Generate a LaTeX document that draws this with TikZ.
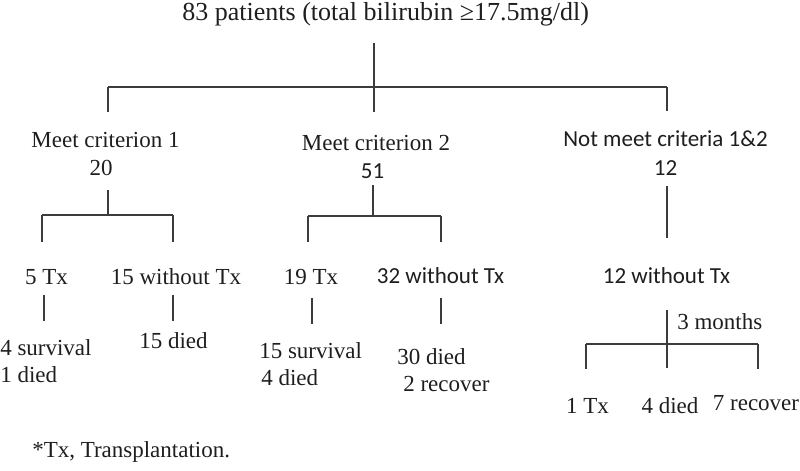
\documentclass[tikz,border=0pt]{standalone}
\usepackage{fontspec}
\setmainfont{Liberation Serif}
\newfontfamily\calfont{Carlito}
\usepackage{tikz}
\definecolor{linegray}{HTML}{3C3C3C}
\definecolor{textdark}{HTML}{1E1E1E}

\begin{document}
\begin{tikzpicture}[
  lbl/.style={anchor=base,inner sep=0pt,text=textdark,font=\fontsize{16.35}{19.2}\selectfont},
  lsf/.style={lbl,font=\calfont\fontsize{16.35}{19.2}\selectfont},
  two/.style={lbl,anchor=base west,align=left},
  br/.style={line width=1pt,draw=linegray}]
\useasboundingbox (0,0) rectangle (20,-11.775);
% title and first split
\node[lbl,font=\fontsize{18.5}{22}\selectfont] (top) at (9.64,-0.5) {83 patients (total bilirubin ≥17.5mg/dl)};
\coordinate (a0) at (9.35,-1.075); \coordinate (a1) at (9.35,-2.8);
\coordinate (b1) at (2.7,-2.175); \coordinate (b2) at (16.675,-2.175);
\coordinate (b1e) at (2.7,-2.8); \coordinate (b2e) at (16.675,-2.775);
\draw[br] (a0)--(a1); \draw[br] (b1)--(b2);
\draw[br] (b1)--(b1e); \draw[br] (b2)--(b2e);
% groups
\node[lbl] (c1) at (2.6375,-3.675) {Meet criterion 1};
\node[lbl] (n1) at (2.525,-4.375) {20};
\node[lbl] (c2) at (9.4,-3.75) {Meet criterion 2};
\node[lsf] (n2) at (9.3125,-4.45) {51};
\node[lsf] (c3) at (16.6375,-3.65) {Not meet criteria 1\&2};
\node[lsf] (n3) at (16.6375,-4.375) {12};
% second split
\coordinate (d1) at (2.7,-4.75); \coordinate (d1b) at (2.7,-5.375);
\coordinate (d1l) at (1.05,-5.375); \coordinate (d1r) at (4.325,-5.375);
\coordinate (d1le) at (1.05,-6.05); \coordinate (d1re) at (4.325,-6.05);
\draw[br] (d1)--(d1b); \draw[br] (d1l)--(d1r);
\draw[br] (d1l)--(d1le); \draw[br] (d1r)--(d1re);
\coordinate (d2) at (9.325,-4.625); \coordinate (d2b) at (9.325,-5.4);
\coordinate (d2l) at (7.7,-5.4); \coordinate (d2r) at (11.025,-5.4);
\coordinate (d2le) at (7.7,-6.05); \coordinate (d2re) at (11.025,-6.05);
\draw[br] (d2)--(d2b); \draw[br] (d2l)--(d2r);
\draw[br] (d2l)--(d2le); \draw[br] (d2r)--(d2re);
\coordinate (d3) at (16.675,-4.65); \coordinate (d3e) at (16.675,-5.95);
\draw[br] (d3)--(d3e);
% treatment
\node[lbl] (t1) at (1.1625,-7.1) {5 Tx};
\node[lbl] (w1) at (4.4,-7.1) {15 without Tx};
\node[lbl] (t2) at (7.775,-7.1) {19 Tx};
\node[lsf] (w2) at (11.0125,-7.075) {32 without Tx};
\node[lsf] (w3) at (16.6625,-7.075) {12 without Tx};
\coordinate (e1) at (1.1,-7.375); \coordinate (e1e) at (1.1,-8.025);
\coordinate (e2) at (4.325,-7.375); \coordinate (e2e) at (4.325,-8.025);
\coordinate (e3) at (7.8,-7.45); \coordinate (e3e) at (7.8,-8.1);
\coordinate (e4) at (11.025,-7.45); \coordinate (e4e) at (11.025,-8.1);
\draw[br] (e1)--(e1e); \draw[br] (e2)--(e2e);
\draw[br] (e3)--(e3e); \draw[br] (e4)--(e4e);
% outcomes (base = last line)
\node[two] (o1) at (0,-9.55) {4 survival\\1 died};
\node[lbl] (o2) at (4.3375,-8.7) {15 died};
\node[two] (o3) at (6.475,-9.625) {15 survival\\\hspace*{0.05cm}4 died};
\node[two] (o4) at (9.925,-9.775) {30 died\\\hspace*{0.15cm}2 recover};
% 3 months follow up
\coordinate (f0) at (16.675,-7.75); \coordinate (f0e) at (16.675,-9.2);
\coordinate (fl) at (14.65,-8.6); \coordinate (fr) at (18.95,-8.6);
\coordinate (fle) at (14.65,-9.225); \coordinate (fre) at (18.95,-9.225);
\draw[br] (f0)--(f0e); \draw[br] (fl)--(fr);
\draw[br] (fl)--(fle); \draw[br] (fr)--(fre);
\node[lbl,anchor=base west] (mo) at (16.925,-8.225) {3 months};
\node[lbl] (r1) at (14.6875,-10.325) {1 Tx};
\node[lbl] (r2) at (16.75,-10.325) {4 died};
\node[lbl] (r3) at (18.9,-10.25) {7 recover};
\node[lbl,anchor=base west] (note) at (0.8,-11.425) {*Tx, Transplantation.};
\end{tikzpicture}
\end{document}
